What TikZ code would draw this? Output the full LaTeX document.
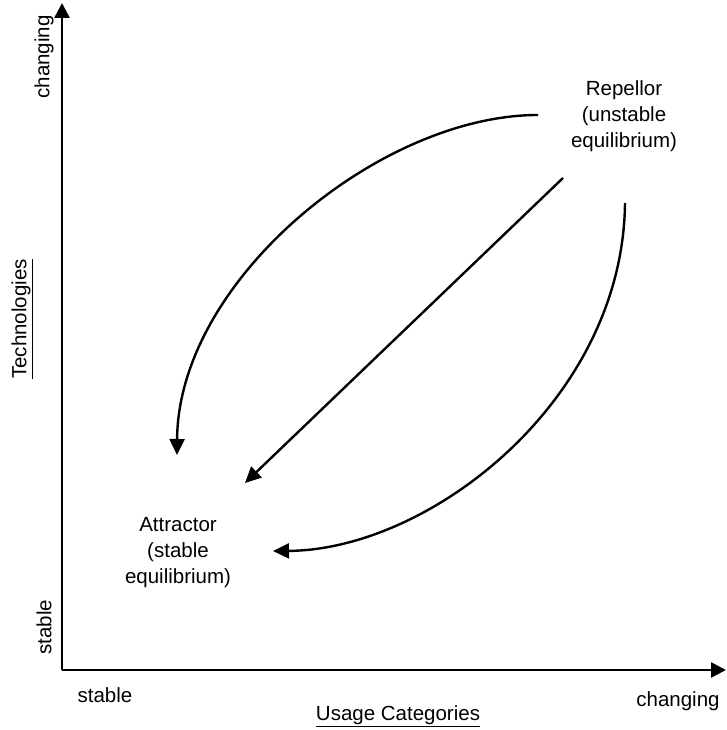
\documentclass[tikz,border=0pt]{standalone}
\usepackage{fontspec}
\setmainfont{Liberation Sans}
\usetikzlibrary{arrows.meta}

\begin{document}
\begin{tikzpicture}[
    x=1pt, y=1pt,
    every node/.style={font=\fontsize{20.5}{26}\selectfont, inner sep=0pt},
    axis/.style={line width=2.6pt, -{Triangle[length=15pt,width=15pt]}},
    flow/.style={line width=2.4pt, -{Triangle[length=16pt,width=15pt]}},
    state/.style={align=center}
  ]
  \useasboundingbox (-62,-60) rectangle (665,670);

  % Axes
  \coordinate (origin) at (0,0);
  \coordinate (ytip) at (0,667);
  \coordinate (xtip) at (664,0);
  \draw[axis] (origin.center) -- (ytip);
  \draw[axis] (origin.center) -- (xtip);

  % Axis labels
  \node[rotate=90] (ychanging) at (-18,613) {changing};
  \node[rotate=90] (ystable) at (-18,43) {stable};
  \node[rotate=90] (ytitle) at (-40,351) {\underline{Technologies}};
  \node (xstable) at (43,-25) {stable};
  \node (xchanging) at (616,-31) {changing};
  \node (xtitle) at (336,-46) {\underline{Usage Categories}};

  % Equilibrium points
  \node[state] (repellor) at (562,554) {Repellor\\(unstable\\equilibrium)};
  \node[state] (attractor) at (116,117) {Attractor\\(stable\\equilibrium)};

  % Ends of the flow lines
  \coordinate (upstart) at (476,555);
  \coordinate (upend) at (115,215);
  \coordinate (midstart) at (501,492);
  \coordinate (midend) at (183,187);
  \coordinate (lowstart) at (563,467);
  \coordinate (lowend) at (211,119);

  % Flows from repellor to attractor
  \draw[flow] (upstart) .. controls (318,555) and (116,390) .. (upend);
  \draw[flow] (midstart) -- (midend);
  \draw[flow] (lowstart) .. controls (561,270) and (368,120) .. (lowend);
\end{tikzpicture}
\end{document}
